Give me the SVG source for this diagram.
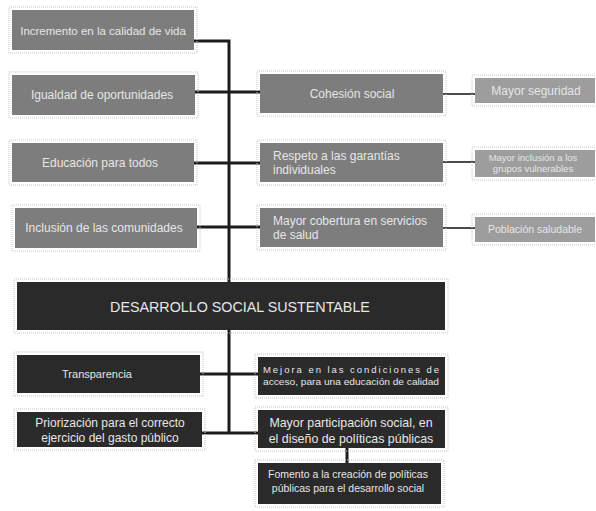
<svg xmlns="http://www.w3.org/2000/svg" width="596" height="511" viewBox="0 0 596 511">
<style>
.bg{fill:#ffffff}
.gray{fill:#7d7d7d}
.lite{fill:#9d9d9d}
.dark{fill:#2a2a2a}
.halo{fill:none;stroke:#c4c4c4;stroke-width:1;stroke-dasharray:1 1}
.t{font-family:"Liberation Sans",Arial,sans-serif;fill:#e6e6e6}
.c{text-anchor:middle}
.main{stroke:#1c1c1c;stroke-width:3;fill:none}
.side{stroke:#4a4a4a;stroke-width:2;fill:none}
</style>
<rect class="bg" x="0" y="0" width="596" height="511"/>
<g id="connectors">
<path class="main" d="M194 41 H229 V433"/>
<path class="main" d="M194 92 H260"/>
<path class="main" d="M194 163 H260"/>
<path class="main" d="M196 227 H260"/>
<path class="main" d="M200 374 H258"/>
<path class="main" d="M202 433 H258"/>
<path class="main" d="M347 448 V463"/>
<path class="side" d="M443 94 H475"/>
<path class="side" d="M443 162 H475"/>
<path class="side" d="M443 228 H475"/>
</g>
<g id="n-incremento">
<rect class="halo" x="9" y="7" width="188" height="46"/>
<rect class="gray" x="12" y="10" width="182" height="40"/>
<text class="t c" x="103" y="35" font-size="11.5">Incremento en la calidad de vida</text>
</g>
<g id="n-igualdad">
<rect class="halo" x="9" y="72" width="189" height="46"/>
<rect class="gray" x="12" y="75" width="183" height="40"/>
<text class="t c" x="102" y="99" font-size="12">Igualdad de oportunidades</text>
</g>
<g id="n-educacion">
<rect class="halo" x="9" y="140" width="188" height="45"/>
<rect class="gray" x="12" y="143" width="182" height="39"/>
<text class="t c" x="100" y="167" font-size="12">Educación para todos</text>
</g>
<g id="n-inclusion">
<rect class="halo" x="12" y="205" width="188" height="46"/>
<rect class="gray" x="15" y="208" width="182" height="40"/>
<text class="t c" x="104" y="232" font-size="12">Inclusión de las comunidades</text>
</g>
<g id="n-cohesion">
<rect class="halo" x="257" y="71" width="189" height="45"/>
<rect class="gray" x="260" y="74" width="183" height="39"/>
<text class="t c" x="352" y="98" font-size="12">Cohesión social</text>
</g>
<g id="n-respeto">
<rect class="halo" x="257" y="140" width="189" height="45"/>
<rect class="gray" x="260" y="143" width="183" height="39"/>
<text class="t" x="273" y="160" font-size="12">Respeto a las garantías</text>
<text class="t" x="273" y="174" font-size="12">individuales</text>
</g>
<g id="n-cobertura">
<rect class="halo" x="257" y="205" width="189" height="45"/>
<rect class="gray" x="260" y="208" width="183" height="39"/>
<text class="t" x="273" y="225" font-size="12">Mayor cobertura en servicios</text>
<text class="t" x="273" y="239" font-size="12">de salud</text>
</g>
<g id="n-seguridad">
<rect class="halo" x="472" y="75" width="126" height="31"/>
<rect class="lite" x="475" y="78" width="120" height="25"/>
<text class="t c" x="536" y="95" font-size="12">Mayor seguridad</text>
</g>
<g id="n-grupos">
<rect class="halo" x="472" y="147" width="126" height="33"/>
<rect class="lite" x="475" y="150" width="120" height="27"/>
<text class="t c" x="533" y="161" font-size="9.5">Mayor inclusión a los</text>
<text class="t c" x="533" y="172" font-size="9.5">grupos vulnerables</text>
</g>
<g id="n-poblacion">
<rect class="halo" x="472" y="214" width="126" height="31"/>
<rect class="lite" x="475" y="217" width="120" height="25"/>
<text class="t c" x="535" y="233" font-size="10.5">Población saludable</text>
</g>
<g id="n-desarrollo">
<rect class="halo" x="14" y="279" width="434" height="54"/>
<rect class="dark" x="17" y="282" width="428" height="48"/>
<text class="t c" x="240" y="312" font-size="14.3">DESARROLLO SOCIAL SUSTENTABLE</text>
</g>
<g id="n-transparencia">
<rect class="halo" x="14" y="352" width="189" height="44"/>
<rect class="dark" x="17" y="355" width="183" height="38"/>
<text class="t c" x="97" y="378" font-size="11">Transparencia</text>
</g>
<g id="n-mejoras">
<rect class="halo" x="255" y="354" width="193" height="44"/>
<rect class="dark" x="258" y="357" width="187" height="38"/>
<text class="t" x="263" y="373" font-size="9.5" textLength="176" lengthAdjust="spacing">Mejora en las condiciones de</text>
<text class="t" x="263" y="385" font-size="9.5" textLength="176" lengthAdjust="spacingAndGlyphs">acceso, para una educación de calidad</text>
</g>
<g id="n-priorizacion">
<rect class="halo" x="14" y="409" width="191" height="41"/>
<rect class="dark" x="17" y="412" width="185" height="35"/>
<text class="t c" x="110" y="427" font-size="12">Priorización para el correcto</text>
<text class="t c" x="110" y="442" font-size="12">ejercicio del gasto público</text>
</g>
<g id="n-participacion">
<rect class="halo" x="255" y="407" width="193" height="44"/>
<rect class="dark" x="258" y="410" width="187" height="38"/>
<text class="t c" x="351" y="427" font-size="12.4">Mayor participación social, en</text>
<text class="t c" x="351" y="443" font-size="12.4">el diseño de políticas públicas</text>
</g>
<g id="n-fomento">
<rect class="halo" x="255" y="460" width="189" height="47"/>
<rect class="dark" x="258" y="463" width="183" height="41"/>
<text class="t c" x="348" y="478" font-size="10.5">Fomento a la creación de políticas</text>
<text class="t c" x="348" y="492" font-size="10.5">públicas para el desarrollo social</text>
</g>
</svg>
